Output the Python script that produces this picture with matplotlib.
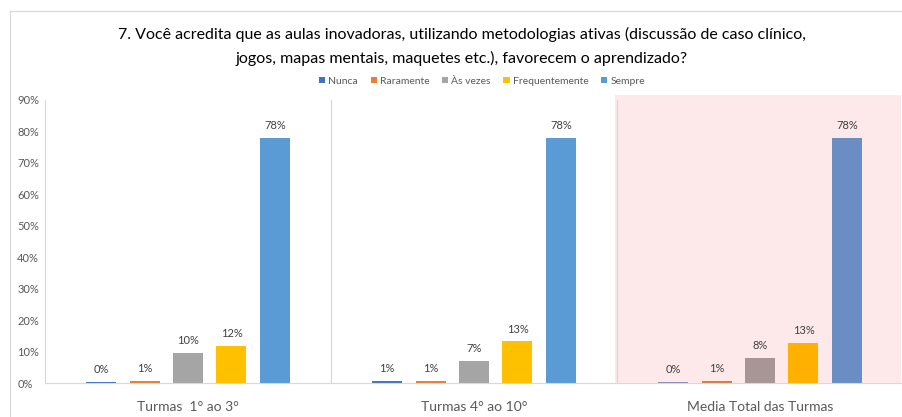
import matplotlib
matplotlib.use("Agg")
import matplotlib.pyplot as plt
from matplotlib.patches import Rectangle, Patch
import numpy as np

plt.rcParams['font.family'] = ['Lato', 'DejaVu Sans']

groups = ["Turmas  1° ao 3°", "Turmas 4° ao 10°", "Media Total das Turmas"]
series = ["Nunca", "Raramente", "Às vezes", "Frequentemente", "Sempre"]
nunca = [0.4, 0.6, 0.4]
raramente = [0.6, 0.6, 0.7]
as_vezes = [9.6, 6.9, 7.9]
frequentemente = [11.7, 13.2, 12.6]
sempre = [77.8, 77.8, 77.8]
values = [nunca, raramente, as_vezes, frequentemente, sempre]
yticks = [0, 10, 20, 30, 40, 50, 60, 70, 80, 90]

colors = ["#4472C4", "#ED7D31", "#A5A5A5", "#FFC000", "#5B9BD5"]
highlight_colors = ["#8E88B8", "#E07A3C", "#A89595", "#FFB000", "#6A8EC4"]

fig = plt.figure(figsize=(9.02, 4.17), dpi=100)
W, H = 902, 417
ax = fig.add_axes([45 / W, 1 - 383 / H, 858 / W, 283 / H])

# chart frame
fig.add_artist(plt.Line2D([10 / W, 10 / W], [0, 1 - 11 / H], color="#D9D9D9", lw=0.9,
                          transform=fig.transFigure))
fig.add_artist(plt.Line2D([10 / W, 1], [1 - 11 / H, 1 - 11 / H], color="#D9D9D9", lw=0.9,
                          transform=fig.transFigure))

x = np.arange(len(groups))
step = 0.152
width = 0.105

# highlighted group background
ax.add_patch(Rectangle((1.492, 0), 1.0, 91.6, facecolor="#FDE9EA", edgecolor="none",
                       zorder=0, clip_on=False))

for i, (name, vals) in enumerate(zip(series, values)):
    pos = x + (i - 2) * step
    cols = [colors[i], colors[i], highlight_colors[i]]
    ax.bar(pos, vals, width=width, color=cols, zorder=2, label=name)
    for px, v in zip(pos, vals):
        ax.text(px, v + 2.2, f"{v:.0f}%", ha="center", va="bottom", fontsize=8,
                color="#404040", zorder=3)

for sep in [0.5, 1.5]:
    ax.axvline(sep, color="#D9D9D9", lw=0.9, zorder=1)

ax.set_xlim(-0.5, 2.5)
ax.set_ylim(0, 90)
ax.set_yticks(yticks)
ax.set_yticklabels([f"{t}%" for t in yticks], fontsize=8, color="#595959")
ax.set_xticks(x)
ax.set_xticklabels(groups, fontsize=10, color="#595959")
ax.tick_params(axis="both", length=0)
ax.tick_params(axis="x", pad=13)
ax.tick_params(axis="y", pad=20)
for t in ax.get_yticklabels():
    t.set_horizontalalignment("left")
for s in ["top", "right"]:
    ax.spines[s].set_visible(False)
ax.spines["left"].set_color("#D9D9D9")
ax.spines["bottom"].set_color("#D9D9D9")
ax.patch.set_alpha(0)

fig.text(462 / W, 1 - 34 / H,
         "7. Você acredita que as aulas inovadoras, utilizando metodologias ativas (discussão de caso clínico,",
         ha="center", va="center", fontsize=11.5, color="#000000")
fig.text(462 / W, 1 - 58 / H,
         "jogos, mapas mentais, maquetes etc.), favorecem o aprendizado?",
         ha="center", va="center", fontsize=11.5, color="#000000")

handles = [Patch(facecolor=c, edgecolor="none") for c in colors]
fig.legend(handles, series, loc="center", bbox_to_anchor=(482 / W, 1 - 81 / H), ncol=5,
           frameon=False, fontsize=7.5, handlelength=0.6, handleheight=0.6,
           handletextpad=0.3, columnspacing=1.2, labelcolor="#595959")

fig.savefig("out.png", dpi=100)
